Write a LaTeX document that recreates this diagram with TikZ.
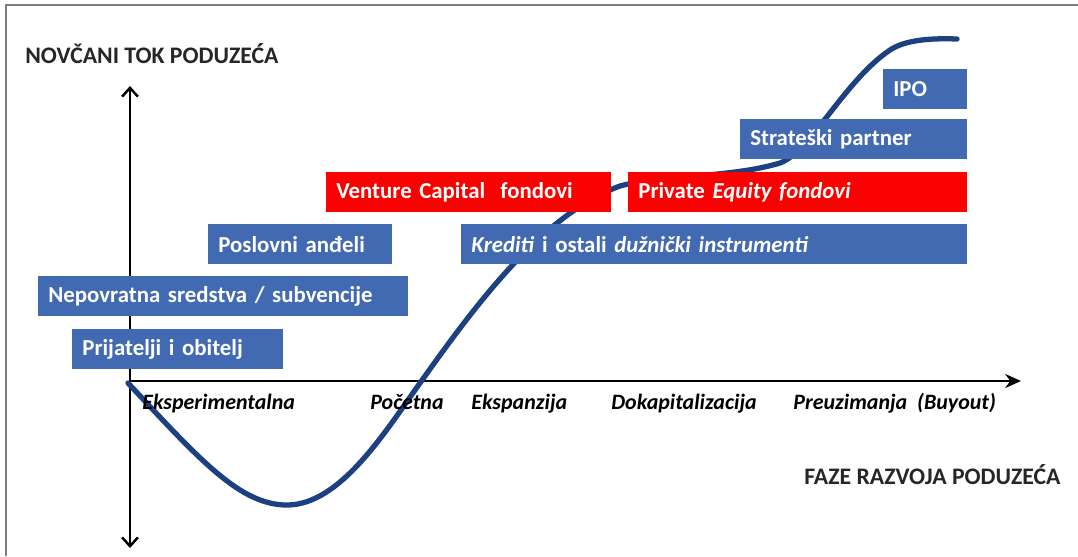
\documentclass[tikz,border=0pt]{standalone}
\usepackage{fontspec}
\setmainfont{Carlito}
\usetikzlibrary{arrows.meta}

\definecolor{fundblue}{RGB}{66,106,178}
\definecolor{fundred}{RGB}{250,0,0}
\definecolor{curveblue}{RGB}{28,64,128}
\definecolor{framegray}{RGB}{125,125,125}

\tikzset{
  fundbox/.style={fill=#1, text=white, anchor=north west, inner xsep=0.2cm,
    inner ysep=0pt, minimum height=0.8cm, align=left,
    font=\fontsize{13}{15}\selectfont\bfseries},
  fundbox/.default=fundblue,
  phase/.style={anchor=base west, inner sep=0pt,
    font=\fontsize{12.5}{15}\selectfont\bfseries\itshape},
  axislabel/.style={anchor=west, inner sep=0pt,
    font=\fontsize{13.5}{15}\selectfont\bfseries, text=black!85},
  axis/.style={line width=1.4pt},
}

\begin{document}
\begin{tikzpicture}[x=0.02cm, y=-0.02cm]
  \useasboundingbox (0,0) rectangle (1078,556);
  \draw[framegray, line width=1.2pt] (1078,5) -- (6,5) -- (6,556);

  % axes
  \coordinate (origin) at (130,381);
  \coordinate (ytop) at (130,86);
  \coordinate (ybot) at (130,548);
  \coordinate (xend) at (1021,381);
  \draw[axis, {Straight Barb[length=5pt,width=9pt]}-{Straight Barb[length=5pt,width=9pt]}] (ybot) -- (ytop);
  \draw[axis, -{Stealth[length=9pt,width=8pt]}] (origin) -- (xend);

  % cash flow curve
  \draw[curveblue, line width=3pt, line cap=round]
    (128,383) .. controls (200,460) and (240,505) .. (287,505)
              .. controls (340,505) and (385,432) .. (420,383)
              .. controls (470,313) and (540,215) .. (620,186)
              .. controls (660,175) and (730,178) .. (780,163)
              .. controls (810,152) and (845,80) .. (890,50)
              .. controls (905,40) and (930,38) .. (957,39);

  % funding sources
  \node[fundbox, text width=1.28cm] (ipo) at (883,69) {IPO};
  \node[fundbox, text width=4.14cm] (strat) at (740,119) {Strateški partner};
  \node[fundbox=fundred, text width=5.30cm] (vc) at (326,172) {Venture Capital\ \ fondovi};
  \node[fundbox=fundred, text width=6.38cm] (pe) at (628,172) {Private \textit{Equity fondovi}};
  \node[fundbox, text width=3.28cm] (angels) at (208,224) {Poslovni anđeli};
  \node[fundbox, text width=9.72cm] (credit) at (461,224) {\textit{Krediti} i ostali \textit{dužnički instrumenti}};
  \node[fundbox, text width=7.00cm] (grants) at (38,276) {Nepovratna sredstva / subvencije};
  \node[fundbox, text width=3.82cm] (family) at (72,329) {Prijatelji i obitelj};

  % phases
  \node[phase] (exp) at (142,409) {Eksperimentalna};
  \node[phase] (start) at (370,409) {Početna};
  \node[phase] (expand) at (471,409) {Ekspanzija};
  \node[phase] (recap) at (611,409) {Dokapitalizacija};
  \node[phase] (buyout) at (793,409) {Preuzimanja\ \ (Buyout)};

  % axis titles
  \node[axislabel] (ytitle) at (25,54) {NOVČANI TOK\ PODUZEĆA};
  \node[axislabel] (xtitle) at (804,475) {FAZE RAZVOJA PODUZEĆA};
\end{tikzpicture}
\end{document}
